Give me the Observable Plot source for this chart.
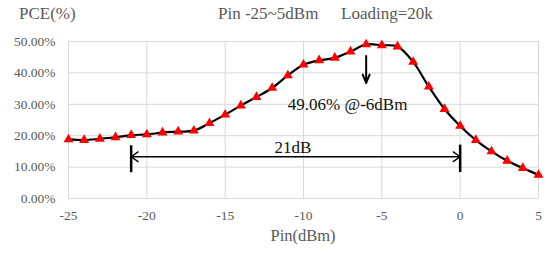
<!DOCTYPE html>
<html><head><meta charset="utf-8">
<script src="https://cdn.jsdelivr.net/npm/d3@7"></script>
<script src="https://cdn.jsdelivr.net/npm/@observablehq/plot@0.6"></script>
<style>body{margin:0;background:#fff} #chart{width:550px;height:253px} svg text{font-family:"Liberation Serif" !important}</style>
</head><body><div id="chart"></div>
<script>
const pin = [-25,-24,-23,-22,-21,-20,-19,-18,-17,-16,-15,-14,-13,-12,-11,-10,-9,-8,-7,-6,-5,-4,-3,-2,-1,0,1,2,3,4,5];
const pce = [18.8,18.6,19.0,19.5,20.2,20.4,21.0,21.3,21.6,24.0,26.7,29.6,32.3,35.2,39.2,42.6,44.0,44.8,46.8,49.06,48.8,48.4,43.5,35.6,28.5,23.1,18.6,15.0,12.0,9.7,7.5];
const xTicks = [-25,-20,-15,-10,-5,0,5];
const yTicks = [0,10,20,30,40,50];
const peakArrow = [{x:-6, y1:45.4, y2:36.8}];
const peakLabel = [{x:-11, y:29.8, text:"49.06% @-6dBm"}];
const rangeMid = -10.5;
const rangeArrow = [{x1:rangeMid, x2:-21, y:13.3},{x1:rangeMid, x2:0, y:13.3}];
const rangeBars = [{x:-21, y1:8.2, y2:16.8},{x:0, y1:8.3, y2:17.0}];
const rangeLabel = [{x:-11.85, y:16.3, text:"21dB"}];
const yTitle = "PCE(%)";
const titleA = "Pin -25~5dBm";
const titleB = "Loading=20k";
const xTitle = "Pin(dBm)";

const data = pin.map((x,i)=>({x, y: pce[i]}));
const serif = "Liberation Serif";
const plot = Plot.plot({
  width:550, height:253, marginLeft:68, marginRight:12, marginTop:41, marginBottom:55,
  style:{fontFamily:serif, fontSize:"13.5px", color:"#595959", background:"#fff"},
  x:{domain:[-25,5], ticks:xTicks, tickSize:0, tickPadding:12, tickFormat:d=>String(d), label:null},
  y:{domain:[0,50], ticks:yTicks, tickSize:0, tickPadding:13, tickFormat:d=>d.toFixed(2)+"%", label:null},
  marks:[
    Plot.gridX(xTicks,{stroke:"#d9d9d9", strokeOpacity:1}),
    Plot.gridY(yTicks,{stroke:"#d9d9d9", strokeOpacity:1}),
    Plot.line(data,{x:"x",y:"y",stroke:"#000",strokeWidth:2.2,curve:"catmull-rom"}),
    Plot.dot(data,{x:"x",y:"y",symbol:"triangle",fill:"#ff0000",r:3.7}),
    Plot.arrow(peakArrow,{x1:"x",x2:"x",y1:"y1",y2:"y2",stroke:"#000",strokeWidth:2,headLength:8,headAngle:45}),
    Plot.text(peakLabel,{x:"x",y:"y",text:"text",textAnchor:"start",fill:"#111",fontSize:17}),
    Plot.arrow(rangeArrow,{x1:"x1",x2:"x2",y1:"y",y2:"y",stroke:"#000",strokeWidth:1.4,headLength:9,headAngle:70}),
    Plot.ruleX(rangeBars,{x:"x",y1:"y1",y2:"y2",stroke:"#000",strokeWidth:2.5}),
    Plot.text(rangeLabel,{x:"x",y:"y",text:"text",textAnchor:"start",fill:"#111",fontSize:17})
  ]
});
const svg = d3.select(plot);
const addText = (t,x,y,anchor)=>svg.append("text").attr("x",x).attr("y",y).attr("text-anchor",anchor)
  .attr("dominant-baseline","middle").attr("fill","#595959").style("font-family",serif).style("font-size","17px").text(t);
addText(yTitle,19,15,"start");
addText(titleA,218,15,"start");
addText(titleB,341,15,"start");
addText(xTitle,303,237,"middle").style("font-size","16.5px");
document.getElementById("chart").appendChild(plot);
</script>
</body></html>
